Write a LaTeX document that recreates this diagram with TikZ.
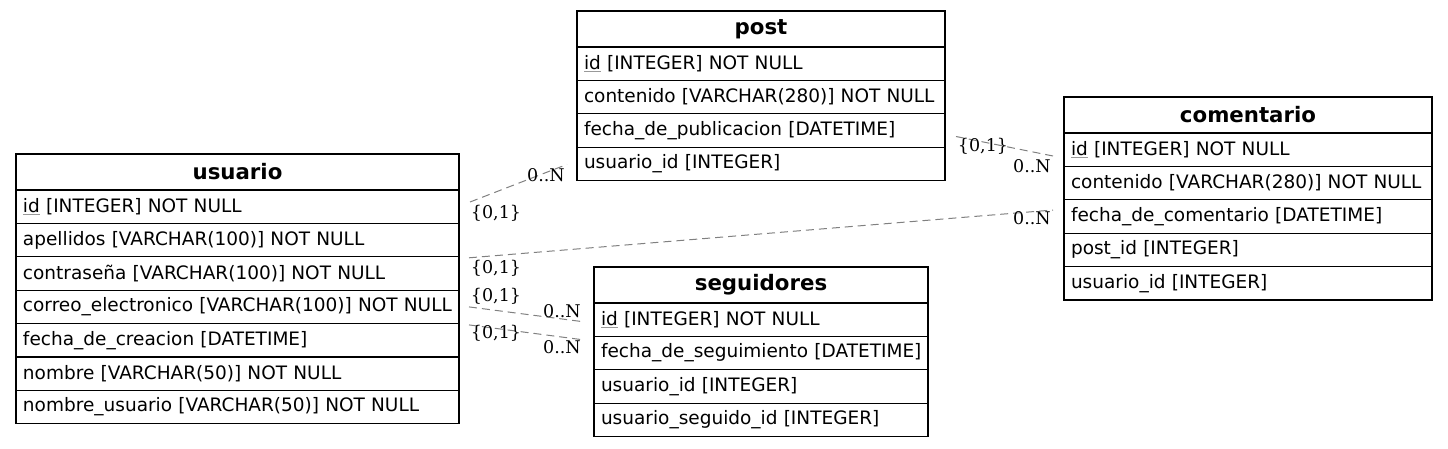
\documentclass[tikz,border=0pt]{standalone}
\usepackage{fontspec}
\setmainfont{DejaVu Sans}
\newfontfamily\lblfont{DejaVu Serif}
\usetikzlibrary{calc}
\newcommand\pkid{\setbox0\hbox{id}\rlap{\color{gray!80}\rule[-3pt]{\wd0}{0.9pt}}\box0}
\newcommand\fd[1]{\mbox{#1}}
\tikzset{
  tbl/.style={draw=black, line width=1.1pt, anchor=north west, outer sep=0pt,
    inner xsep=7pt, inner ysep=0pt, font=\fontsize{18.5}{21}\selectfont},
  hdr/.style={tbl, minimum width=#1, minimum height=36pt, align=center,
    font=\fontsize{21.3}{24}\selectfont\bfseries},
  fld/.style={tbl, text width=#1, minimum height=33.4pt, align=left},
  rel/.style={draw=gray, line width=1pt, dash pattern=on 8pt off 5pt},
  card/.style={font=\lblfont\fontsize{17.5}{20}\selectfont, inner sep=0pt}
}
\begin{document}
\begin{tikzpicture}[x=1pt,y=-1pt]
\useasboundingbox (0,0) rectangle (1448,448);

% usuario
\node[hdr=443pt] (u) at (16,154) {usuario};
\node[fld=429pt] (u1) at (u.south west) {\fd{\pkid{} [INTEGER] NOT NULL}};
\node[fld=429pt] (u2) at (u1.south west) {\fd{apellidos [VARCHAR(100)] NOT NULL}};
\node[fld=429pt] (u3) at (u2.south west) {\fd{contraseña [VARCHAR(100)] NOT NULL}};
\node[fld=429pt] (u4) at (u3.south west) {\fd{correo\_electronico [VARCHAR(100)] NOT NULL}};
\node[fld=429pt] (u5) at (u4.south west) {\fd{fecha\_de\_creacion [DATETIME]}};
\node[fld=429pt] (u6) at (u5.south west) {\fd{nombre [VARCHAR(50)] NOT NULL}};
\node[fld=429pt] (u7) at (u6.south west) {\fd{nombre\_usuario [VARCHAR(50)] NOT NULL}};

% post
\node[hdr=368pt] (p) at (577,11) {post};
\node[fld=354pt] (p1) at (p.south west) {\fd{\pkid{} [INTEGER] NOT NULL}};
\node[fld=354pt] (p2) at (p1.south west) {\fd{contenido [VARCHAR(280)] NOT NULL}};
\node[fld=354pt] (p3) at (p2.south west) {\fd{fecha\_de\_publicacion [DATETIME]}};
\node[fld=354pt] (p4) at (p3.south west) {\fd{usuario\_id [INTEGER]}};

% comentario
\node[hdr=368pt] (c) at (1064,97) {comentario};
\node[fld=354pt] (c1) at (c.south west) {\fd{\pkid{} [INTEGER] NOT NULL}};
\node[fld=354pt] (c2) at (c1.south west) {\fd{contenido [VARCHAR(280)] NOT NULL}};
\node[fld=354pt] (c3) at (c2.south west) {\fd{fecha\_de\_comentario [DATETIME]}};
\node[fld=354pt] (c4) at (c3.south west) {\fd{post\_id [INTEGER]}};
\node[fld=354pt] (c5) at (c4.south west) {\fd{usuario\_id [INTEGER]}};

% seguidores
\node[hdr=334pt] (s) at (594,267) {seguidores};
\node[fld=320pt] (s1) at (s.south west) {\fd{\pkid{} [INTEGER] NOT NULL}};
\node[fld=320pt] (s2) at (s1.south west) {\fd{fecha\_de\_seguimiento [DATETIME]}};
\node[fld=320pt] (s3) at (s2.south west) {\fd{usuario\_id [INTEGER]}};
\node[fld=320pt] (s4) at (s3.south west) {\fd{usuario\_seguido\_id [INTEGER]}};

% connector end points
\coordinate (e1a) at ($(u1.east)+(11,-4.7)$);
\coordinate (e1b) at ($(p4.west)+(-10,0.5)$);
\coordinate (e2a) at ($(u3.north east)+(10,1)$);
\coordinate (e2b) at ($(c3.west)+(-11,-6.5)$);
\coordinate (e3a) at ($(u4.east)+(10,0)$);
\coordinate (e3b) at ($(s1.west)+(-11,2)$);
\coordinate (e4a) at ($(u5.north east)+(10,1.3)$);
\coordinate (e4b) at ($(s1.south west)+(-11,3.4)$);
\coordinate (e5a) at ($(p3.east)+(11,6)$);
\coordinate (e5b) at ($(c1.west)+(-11,6.3)$);

\draw[rel] (e1a) -- (e1b);
\draw[rel] (e2a) -- (e2b);
\draw[rel] (e3a) -- (e3b);
\draw[rel] (e4a) -- (e4b);
\draw[rel] (e5a) -- (e5b);

% cardinalities
\node[card] (l1a) at (496,213) {\{0,1\}};
\node[card] (l1b) at (546,175) {0..N};
\node[card] (l2a) at (496,268) {\{0,1\}};
\node[card] (l2b) at (1032,218) {0..N};
\node[card] (l3a) at (496,296) {\{0,1\}};
\node[card] (l3b) at (562,311) {0..N};
\node[card] (l4a) at (496,333) {\{0,1\}};
\node[card] (l4b) at (562,347) {0..N};
\node[card] (l5a) at (983,146) {\{0,1\}};
\node[card] (l5b) at (1032,166) {0..N};
\end{tikzpicture}
\end{document}
